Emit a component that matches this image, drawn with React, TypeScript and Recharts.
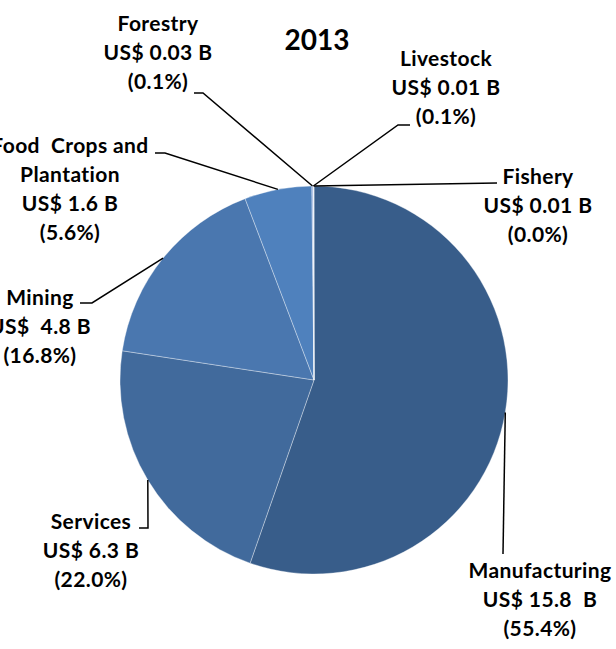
import { PieChart, Pie, Cell } from 'recharts';

const SECTORS = ['Manufacturing', 'Services', 'Mining', 'Food  Crops and|Plantation', 'Forestry', 'Livestock', 'Fishery'];
const VALUES = [15.8, 6.3, 4.8, 1.6, 0.03, 0.01, 0.01];
const VALUE_TEXT = ['US$ 15.8  B', 'US$ 6.3 B', 'US$  4.8 B', 'US$ 1.6 B', 'US$ 0.03 B', 'US$ 0.01 B', 'US$ 0.01 B'];
const PERCENT_TEXT = ['(55.4%)', '(22.0%)', '(16.8%)', '(5.6%)', '(0.1%)', '(0.1%)', '(0.0%)'];

const COLORS = ['#385D8A', '#416A9C', '#4A77AF', '#4F81BD', '#8FAADC', '#B4C7E7', '#DAE3F3'];

// label placement, offsets from the pie centre: text (centre x, first baseline), elbow, end of short tick
const LABEL_LAYOUT = [
  { tx: 226, ty: 198, ex: 189, ey: 174, hx: 189 },
  { tx: -223, ty: 149, ex: -166, ey: 148, hx: -175 },
  { tx: -274, ty: -75, ex: -222, ey: -77, hx: -234 },
  { tx: -244, ty: -227, ex: -149, ey: -227, hx: -159 },
  { tx: -156, ty: -349, ex: -111, ey: -287, hx: -120 },
  { tx: 132, ty: -314, ex: 84, ey: -255, hx: 96 },
  { tx: 224, ty: -196, ex: 183, ey: -197, hx: 183 },
];

const FONT = 'Lato, "Open Sans", sans-serif';
const LINE_H = 29;
const RAD = Math.PI / 180;

const data = SECTORS.map((name, i) => ({ name, value: VALUES[i] }));

function renderLabel(props: any) {
  const { cx, cy, midAngle, outerRadius, index } = props;
  const lay = LABEL_LAYOUT[index];
  const sx = cx + outerRadius * Math.cos(-midAngle * RAD);
  const sy = cy + outerRadius * Math.sin(-midAngle * RAD);
  const lines = [...SECTORS[index].split('|'), VALUE_TEXT[index], PERCENT_TEXT[index]];
  return (
    <g key={`lbl-${index}`}>
      <polyline
        points={`${sx},${sy} ${cx + lay.ex},${cy + lay.ey} ${cx + lay.hx},${cy + lay.ey}`}
        fill="none"
        stroke="#000"
        strokeWidth={1.5}
      />
      <text
        x={cx + lay.tx}
        y={cy + lay.ty}
        textAnchor="middle"
        fontFamily={FONT}
        fontWeight={700}
        fontSize={21}
        letterSpacing={0.4}
        fill="#000"
        style={{ fontVariantLigatures: 'none' }}
      >
        {lines.map((t, k) => (
          <tspan key={k} x={cx + lay.tx} dy={k === 0 ? 0 : LINE_H} style={{ whiteSpace: 'pre' }}>
            {t}
          </tspan>
        ))}
      </text>
    </g>
  );
}

export default function App() {
  return (
    <div style={{ position: 'absolute', left: 0, top: 0, width: 616, height: 649, background: '#fff' }}>
      <div
        style={{
          position: 'absolute',
          left: 0,
          width: 634,
          top: 23,
          textAlign: 'center',
          fontFamily: FONT,
          fontWeight: 700,
          fontSize: 28,
          lineHeight: '32px',
        }}
      >
        2013
      </div>
      <PieChart width={616} height={649} margin={{ top: 0, right: 0, bottom: 0, left: 0 }}>
        <Pie
          data={data}
          dataKey="value"
          cx={314}
          cy={380}
          outerRadius={194}
          startAngle={90}
          endAngle={-270}
          stroke="#ffffff"
          strokeOpacity={0.35}
          strokeWidth={1}
          label={renderLabel}
          labelLine={false}
          isAnimationActive={false}
        >
          {data.map((d, i) => (
            <Cell key={d.name} fill={COLORS[i]} />
          ))}
        </Pie>
      </PieChart>
    </div>
  );
}
